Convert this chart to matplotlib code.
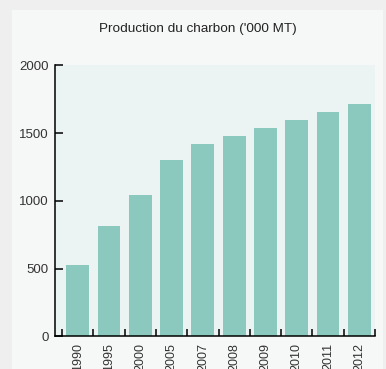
import matplotlib
matplotlib.use("Agg")
import matplotlib.pyplot as plt
from matplotlib.patches import Rectangle
import numpy as np

years = ["1990", "1995", "2000", "2005", "2007", "2008", "2009", "2010", "2011", "2012"]
production = [530, 815, 1040, 1300, 1420, 1480, 1535, 1595, 1655, 1715]
yticks = [0, 500, 1000, 1500, 2000]
title = "Production du charbon ('000 MT)"

plt.rcParams['font.family'] = ['Liberation Sans', 'DejaVu Sans']

W, H = 386, 369
fig = plt.figure(figsize=(W / 100, H / 100), dpi=100)
fig.patch.set_facecolor('#eeefee')
fig.patches.append(Rectangle((12 / W, 0), (383 - 12) / W, (H - 10) / H,
                             transform=fig.transFigure, facecolor='#f6f8f7',
                             edgecolor='none', zorder=-5))

ax = fig.add_axes([54.5 / W, 32.6 / H, 320.5 / W, 271.2 / H])
ax.set_zorder(2)
ax.set_facecolor('#ebf4f2')
x = np.arange(len(years))
ax.bar(x, production, width=0.73, color='#8bc9bf', zorder=2)

ax.set_xlim(-0.74, len(years) - 0.5)
ax.set_ylim(0, 2000)
ax.set_yticks(yticks)
ax.set_yticklabels([str(v) for v in yticks], fontsize=9.5, color='#333333')
ax.set_xticks(x)
ax.set_xticklabels(years, rotation=90, fontsize=9, color='#333333', va='top')
ax.set_xticks(np.arange(-0.5, len(years)), minor=True)
ax.tick_params(axis='x', which='major', length=0, pad=5)
ax.tick_params(axis='x', which='minor', direction='in', length=5, width=1.1, color='black')
ax.tick_params(axis='y', direction='in', length=5.8, width=1.1, color='black', pad=4)

for s in ['top', 'right']:
    ax.spines[s].set_visible(False)
for s in ['left', 'bottom']:
    ax.spines[s].set_linewidth(1.1)
    ax.spines[s].set_color('black')

fig.text(198 / W, 1 - 29 / H, title, ha='center', va='center', fontsize=9.7, color='#222222')

fig.savefig('out.png', dpi=100, facecolor=fig.get_facecolor())
